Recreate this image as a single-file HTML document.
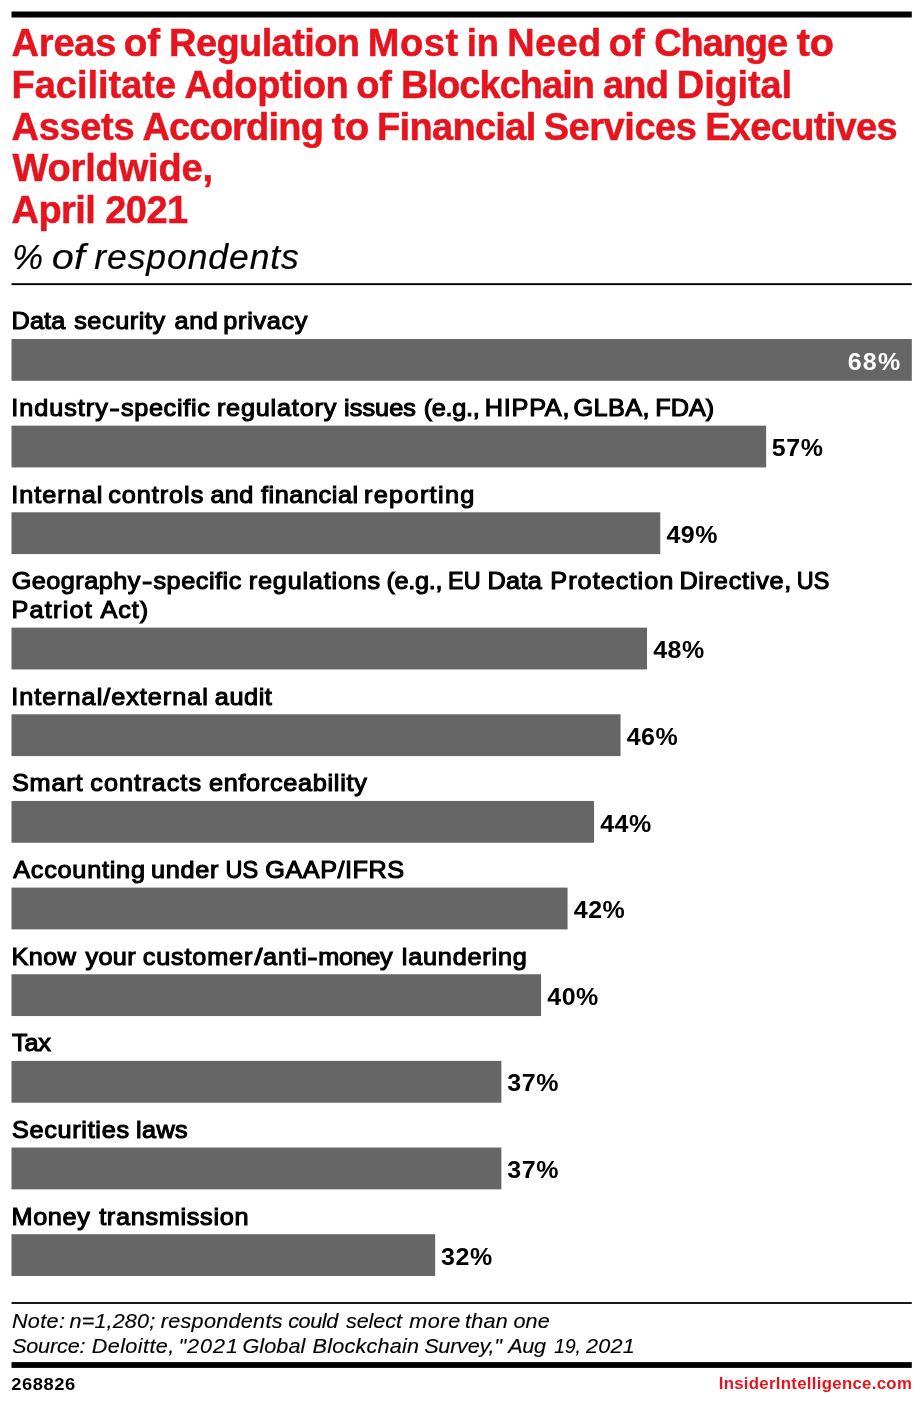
<!DOCTYPE html>
<html lang="en"><head><meta charset="utf-8"><title>Areas of Regulation Most in Need of Change</title>
<style>html,body{margin:0;padding:0;background:#fff}body{width:922px;height:1406px;overflow:hidden}svg{display:block}text{font-family:"Liberation Sans",Arial,Helvetica,sans-serif;white-space:pre}</style></head><body>
<svg width="922" height="1406" viewBox="0 0 922 1406" role="img" aria-label="Bar chart: areas of regulation most in need of change">
<rect x="11.50" y="339.00" width="900.30" height="41.80" fill="#666"/>
<rect x="11.50" y="425.65" width="754.66" height="41.80" fill="#666"/>
<rect x="11.50" y="512.30" width="648.75" height="41.80" fill="#666"/>
<rect x="11.50" y="627.65" width="635.51" height="41.80" fill="#666"/>
<rect x="11.50" y="714.30" width="609.03" height="41.80" fill="#666"/>
<rect x="11.50" y="800.95" width="582.55" height="41.80" fill="#666"/>
<rect x="11.50" y="887.60" width="556.07" height="41.80" fill="#666"/>
<rect x="11.50" y="974.25" width="529.59" height="41.80" fill="#666"/>
<rect x="11.50" y="1060.90" width="489.87" height="41.80" fill="#666"/>
<rect x="11.50" y="1147.55" width="489.87" height="41.80" fill="#666"/>
<rect x="11.50" y="1234.20" width="423.67" height="41.80" fill="#666"/>
<rect x="11.50" y="11.50" width="900.30" height="6.00" fill="#000"/>
<rect x="11.50" y="283.20" width="900.30" height="1.90" fill="#000"/>
<rect x="11.50" y="1302.10" width="900.30" height="1.80" fill="#000"/>
<rect x="11.50" y="1362.10" width="900.30" height="5.80" fill="#000"/>
<text y="56.0" fill="#e6141e" stroke="#e6141e" stroke-width="0.5" style="font-size:38px;font-weight:bold"><tspan x="11.50" style="letter-spacing:-0.175px">Areas </tspan></text><text y="56.0" fill="#e6141e" stroke="#e6141e" stroke-width="0.5" transform="scale(1.0145,1)" style="font-size:38px;font-weight:bold"><tspan x="121.88">of </tspan></text><text y="56.0" fill="#e6141e" stroke="#e6141e" stroke-width="0.5" style="font-size:38px;font-weight:bold"><tspan x="169.05" style="letter-spacing:-0.600px">Regulation </tspan><tspan x="367.75" style="letter-spacing:0.583px">Most </tspan></text><text y="56.0" fill="#e6141e" stroke="#e6141e" stroke-width="0.5" transform="scale(0.9587,1)" style="font-size:38px;font-weight:bold"><tspan x="486.77">in </tspan></text><text y="56.0" fill="#e6141e" stroke="#e6141e" stroke-width="0.5" style="font-size:38px;font-weight:bold"><tspan x="507.25" style="letter-spacing:0.317px">Need </tspan></text><text y="56.0" fill="#e6141e" stroke="#e6141e" stroke-width="0.5" transform="scale(0.9986,1)" style="font-size:38px;font-weight:bold"><tspan x="609.72">of </tspan></text><text y="56.0" fill="#e6141e" stroke="#e6141e" stroke-width="0.5" style="font-size:38px;font-weight:bold"><tspan x="654.15" style="letter-spacing:-1.080px">Change </tspan></text><text y="56.0" fill="#e6141e" stroke="#e6141e" stroke-width="0.5" transform="scale(1.0415,1)" style="font-size:38px;font-weight:bold"><tspan x="764.90">to</tspan></text>
<text y="97.9" fill="#e6141e" stroke="#e6141e" stroke-width="0.5" style="font-size:38px;font-weight:bold"><tspan x="11.45" style="letter-spacing:-0.006px">Facilitate </tspan><tspan x="184.40" style="letter-spacing:-0.336px">Adoption </tspan></text><text y="97.9" fill="#e6141e" stroke="#e6141e" stroke-width="0.5" transform="scale(0.9971,1)" style="font-size:38px;font-weight:bold"><tspan x="357.18">of </tspan></text><text y="97.9" fill="#e6141e" stroke="#e6141e" stroke-width="0.5" style="font-size:38px;font-weight:bold"><tspan x="400.95" style="letter-spacing:-0.956px">Blockchain </tspan><tspan x="602.95" style="letter-spacing:-0.750px">and </tspan><tspan x="676.85" style="letter-spacing:-0.158px">Digital</tspan></text>
<text y="139.7" fill="#e6141e" stroke="#e6141e" stroke-width="0.5" style="font-size:38px;font-weight:bold"><tspan x="11.50" style="letter-spacing:-0.310px">Assets </tspan><tspan x="142.40" style="letter-spacing:-0.806px">According </tspan></text><text y="139.7" fill="#e6141e" stroke="#e6141e" stroke-width="0.5" transform="scale(1.0445,1)" style="font-size:38px;font-weight:bold"><tspan x="317.71">to </tspan></text><text y="139.7" fill="#e6141e" stroke="#e6141e" stroke-width="0.5" style="font-size:38px;font-weight:bold"><tspan x="377.05" style="letter-spacing:-0.694px">Financial </tspan><tspan x="543.65" style="letter-spacing:-0.443px">Services </tspan><tspan x="705.15" style="letter-spacing:-0.672px">Executives</tspan></text>
<text y="181.4" fill="#e6141e" stroke="#e6141e" stroke-width="0.5" style="font-size:38px;font-weight:bold"><tspan x="12.55" style="letter-spacing:-0.172px">Worldwide,</tspan></text>
<text y="223.1" fill="#e6141e" stroke="#e6141e" stroke-width="0.5" style="font-size:38px;font-weight:bold"><tspan x="11.50" style="letter-spacing:-0.561px">April 2021</tspan></text>
<text y="268.7" fill="#000" stroke="#000" stroke-width="0.2" transform="scale(0.9746,1)" style="font-size:35.5px;font-style:italic"><tspan x="12.67">% </tspan></text><text y="268.7" fill="#000" stroke="#000" stroke-width="0.2" transform="scale(1.1173,1)" style="font-size:35.5px;font-style:italic"><tspan x="46.41">of </tspan></text><text y="268.7" fill="#000" stroke="#000" stroke-width="0.2" style="font-size:35.5px;font-style:italic"><tspan x="94.30" style="letter-spacing:0.915px">respondents</tspan></text>
<text y="329.4" fill="#000" stroke="#000" stroke-width="1.1" transform="scale(1.0400,1)" style="font-size:24.3px"><tspan x="11.06" style="letter-spacing:0.144px">Data </tspan><tspan x="71.35" style="letter-spacing:0.522px">security </tspan><tspan x="167.79" style="letter-spacing:0.577px">and </tspan><tspan x="214.71" style="letter-spacing:0.665px">privacy</tspan></text>
<text y="369.6" fill="#fff" transform="scale(1.0600,1)" style="font-size:23.6px;font-weight:bold"><tspan x="799.72" style="letter-spacing:1.156px">68%</tspan></text>
<text y="416.04999999999995" fill="#000" stroke="#000" stroke-width="1.1" transform="scale(1.0400,1)" style="font-size:24.3px"><tspan x="10.82" style="letter-spacing:0.920px">Industry</tspan></text><text y="416.04999999999995" fill="#000" stroke="#000" stroke-width="1.1" transform="scale(1.3001,1)" style="font-size:24.3px"><tspan x="83.95">-</tspan></text><text y="416.04999999999995" fill="#000" stroke="#000" stroke-width="1.1" transform="scale(1.0400,1)" style="font-size:24.3px"><tspan x="116.25" style="letter-spacing:0.639px">specific </tspan><tspan x="208.56" style="letter-spacing:0.759px">regulatory </tspan><tspan x="330.77" style="letter-spacing:0.077px">issues </tspan><tspan x="407.50" style="letter-spacing:-0.317px">(e.g., </tspan><tspan x="466.15" style="letter-spacing:0.712px">HIPPA, </tspan><tspan x="551.49" style="letter-spacing:0.349px">GLBA, </tspan><tspan x="630.10">FDA)</tspan></text>
<text y="456.25" fill="#000" transform="scale(1.0600,1)" style="font-size:23.6px;font-weight:bold"><tspan x="728.13" style="letter-spacing:0.500px">57%</tspan></text>
<text y="502.69999999999993" fill="#000" stroke="#000" stroke-width="1.1" transform="scale(1.0400,1)" style="font-size:24.3px"><tspan x="10.82" style="letter-spacing:0.955px">Internal </tspan><tspan x="104.13" style="letter-spacing:0.900px">controls </tspan><tspan x="202.31" style="letter-spacing:0.312px">and </tspan><tspan x="251.01" style="letter-spacing:0.523px">financial </tspan><tspan x="350.00" style="letter-spacing:1.280px">reporting</tspan></text>
<text y="542.9" fill="#000" transform="scale(1.0600,1)" style="font-size:23.6px;font-weight:bold"><tspan x="628.68" style="letter-spacing:0.500px">49%</tspan></text>
<text y="589.35" fill="#000" stroke="#000" stroke-width="1.1" transform="scale(1.0400,1)" style="font-size:24.3px"><tspan x="11.20" style="letter-spacing:0.463px">Geography</tspan></text><text y="589.35" fill="#000" stroke="#000" stroke-width="1.1" transform="scale(1.2837,1)" style="font-size:24.3px"><tspan x="110.57">-</tspan></text><text y="589.35" fill="#000" stroke="#000" stroke-width="1.1" transform="scale(1.0400,1)" style="font-size:24.3px"><tspan x="147.50" style="letter-spacing:0.515px">specific </tspan><tspan x="239.23" style="letter-spacing:0.750px">regulations </tspan><tspan x="371.63" style="letter-spacing:-0.308px">(e.g., </tspan></text><text y="589.35" fill="#000" stroke="#000" stroke-width="1.1" transform="scale(0.9632,1)" style="font-size:24.3px"><tspan x="465.26">EU </tspan></text><text y="589.35" fill="#000" stroke="#000" stroke-width="1.1" transform="scale(1.0400,1)" style="font-size:24.3px"><tspan x="468.75" style="letter-spacing:0.288px">Data </tspan><tspan x="529.13" style="letter-spacing:0.994px">Protection </tspan><tspan x="653.27" style="letter-spacing:0.710px">Directive, </tspan></text><text y="589.35" fill="#000" stroke="#000" stroke-width="1.1" transform="scale(0.9624,1)" style="font-size:24.3px"><tspan x="827.98">US</tspan></text>
<text y="618.0500000000001" fill="#000" stroke="#000" stroke-width="1.1" transform="scale(1.0400,1)" style="font-size:24.3px"><tspan x="11.06" style="letter-spacing:1.178px">Patriot </tspan><tspan x="96.68" style="letter-spacing:0.881px">Act)</tspan></text>
<text y="658.2500000000001" fill="#000" transform="scale(1.0600,1)" style="font-size:23.6px;font-weight:bold"><tspan x="616.18" style="letter-spacing:0.500px">48%</tspan></text>
<text y="704.7" fill="#000" stroke="#000" stroke-width="1.1" transform="scale(1.0400,1)" style="font-size:24.3px"><tspan x="10.82" style="letter-spacing:0.925px">Internal/external </tspan><tspan x="206.54" style="letter-spacing:0.553px">audit</tspan></text>
<text y="744.9000000000001" fill="#000" transform="scale(1.0600,1)" style="font-size:23.6px;font-weight:bold"><tspan x="591.20" style="letter-spacing:0.500px">46%</tspan></text>
<text y="791.35" fill="#000" stroke="#000" stroke-width="1.1" transform="scale(1.0400,1)" style="font-size:24.3px"><tspan x="11.44" style="letter-spacing:0.769px">Smart </tspan><tspan x="86.83" style="letter-spacing:0.992px">contracts </tspan><tspan x="200.87" style="letter-spacing:0.669px">enforceability</tspan></text>
<text y="831.5500000000001" fill="#000" transform="scale(1.0600,1)" style="font-size:23.6px;font-weight:bold"><tspan x="566.22" style="letter-spacing:0.500px">44%</tspan></text>
<text y="878.0000000000001" fill="#000" stroke="#000" stroke-width="1.1" transform="scale(1.0400,1)" style="font-size:24.3px"><tspan x="12.64" style="letter-spacing:0.732px">Accounting </tspan><tspan x="145.19" style="letter-spacing:0.697px">under </tspan></text><text y="878.0000000000001" fill="#000" stroke="#000" stroke-width="1.1" transform="scale(0.9673,1)" style="font-size:24.3px"><tspan x="233.18">US </tspan></text><text y="878.0000000000001" fill="#000" stroke="#000" stroke-width="1.1" transform="scale(1.0400,1)" style="font-size:24.3px"><tspan x="255.14" style="letter-spacing:0.475px">GAAP/IFRS</tspan></text>
<text y="918.2000000000002" fill="#000" transform="scale(1.0600,1)" style="font-size:23.6px;font-weight:bold"><tspan x="541.24" style="letter-spacing:0.500px">42%</tspan></text>
<text y="964.6500000000001" fill="#000" stroke="#000" stroke-width="1.1" transform="scale(1.0400,1)" style="font-size:24.3px"><tspan x="11.06" style="letter-spacing:0.449px">Know </tspan><tspan x="82.26" style="letter-spacing:0.304px">your </tspan><tspan x="137.31" style="letter-spacing:0.776px">customer</tspan></text><text y="964.6500000000001" fill="#000" stroke="#000" stroke-width="1.1" transform="scale(1.1879,1)" style="font-size:24.3px"><tspan x="214.29">/</tspan></text><text y="964.6500000000001" fill="#000" stroke="#000" stroke-width="1.1" transform="scale(1.0400,1)" style="font-size:24.3px"><tspan x="252.88" style="letter-spacing:1.026px">anti</tspan></text><text y="964.6500000000001" fill="#000" stroke="#000" stroke-width="1.1" transform="scale(1.2760,1)" style="font-size:24.3px"><tspan x="240.71">-</tspan></text><text y="964.6500000000001" fill="#000" stroke="#000" stroke-width="1.1" transform="scale(1.0400,1)" style="font-size:24.3px"><tspan x="306.06" style="letter-spacing:-0.349px">money </tspan><tspan x="386.35" style="letter-spacing:0.748px">laundering</tspan></text>
<text y="1004.8500000000001" fill="#000" transform="scale(1.0600,1)" style="font-size:23.6px;font-weight:bold"><tspan x="516.26" style="letter-spacing:0.500px">40%</tspan></text>
<text y="1051.3000000000002" fill="#000" stroke="#000" stroke-width="1.1" transform="scale(1.0400,1)" style="font-size:24.3px"><tspan x="11.63" style="letter-spacing:-0.216px">Tax</tspan></text>
<text y="1091.5" fill="#000" transform="scale(1.0600,1)" style="font-size:23.6px;font-weight:bold"><tspan x="478.56" style="letter-spacing:0.500px">37%</tspan></text>
<text y="1137.95" fill="#000" stroke="#000" stroke-width="1.1" transform="scale(1.0400,1)" style="font-size:24.3px"><tspan x="11.44" style="letter-spacing:0.668px">Securities </tspan><tspan x="130.67" style="letter-spacing:0.417px">laws</tspan></text>
<text y="1178.1499999999999" fill="#000" transform="scale(1.0600,1)" style="font-size:23.6px;font-weight:bold"><tspan x="478.56" style="letter-spacing:0.500px">37%</tspan></text>
<text y="1224.6000000000001" fill="#000" stroke="#000" stroke-width="1.1" transform="scale(1.0400,1)" style="font-size:24.3px"><tspan x="11.06" style="letter-spacing:0.589px">Money </tspan><tspan x="95.34" style="letter-spacing:0.664px">transmission</tspan></text>
<text y="1264.8" fill="#000" transform="scale(1.0600,1)" style="font-size:23.6px;font-weight:bold"><tspan x="416.10" style="letter-spacing:0.500px">32%</tspan></text>
<text y="1328.2" fill="#000" stroke="#000" stroke-width="0.15" transform="scale(1.0300,1)" style="font-size:21px;font-style:italic"><tspan x="11.55" style="letter-spacing:0.352px">Note: </tspan><tspan x="67.52" style="letter-spacing:0.125px">n=1,280; </tspan><tspan x="156.07" style="letter-spacing:0.272px">respondents </tspan><tspan x="279.81" style="letter-spacing:-0.400px">could </tspan><tspan x="335.83" style="letter-spacing:-0.058px">select </tspan><tspan x="397.23" style="letter-spacing:0.583px">more </tspan><tspan x="451.46" style="letter-spacing:0.227px">than </tspan><tspan x="498.45" style="letter-spacing:0.121px">one</tspan></text>
<text y="1352.8" fill="#000" stroke="#000" stroke-width="0.15" transform="scale(1.0300,1)" style="font-size:21px;font-style:italic"><tspan x="11.55" style="letter-spacing:-0.129px">Source: </tspan><tspan x="89.03" style="letter-spacing:0.400px">Deloitte, </tspan><tspan x="173.20" style="letter-spacing:0.947px">"2021 </tspan><tspan x="235.34" style="letter-spacing:0.087px">Global </tspan><tspan x="303.40" style="letter-spacing:0.221px">Blockchain </tspan><tspan x="411.84" style="letter-spacing:-0.229px">Survey," </tspan><tspan x="493.50" style="letter-spacing:-0.364px">Aug </tspan></text><text y="1352.8" fill="#000" stroke="#000" stroke-width="0.15" transform="scale(0.9130,1)" style="font-size:21px;font-style:italic"><tspan x="607.10">19, </tspan></text><text y="1352.8" fill="#000" stroke="#000" stroke-width="0.15" transform="scale(1.0300,1)" style="font-size:21px;font-style:italic"><tspan x="568.88" style="letter-spacing:0.210px">2021</tspan></text>
<text y="1389.8" fill="#000" transform="scale(1.0800,1)" style="font-size:17px;font-weight:bold"><tspan x="10.46" style="letter-spacing:0.491px">268826</tspan></text>
<text y="1389.4" fill="#e6141e" style="font-size:16.8px;font-weight:bold"><tspan x="718.70" style="letter-spacing:0.300px">InsiderIntelligence.com</tspan></text>
</svg></body></html>
